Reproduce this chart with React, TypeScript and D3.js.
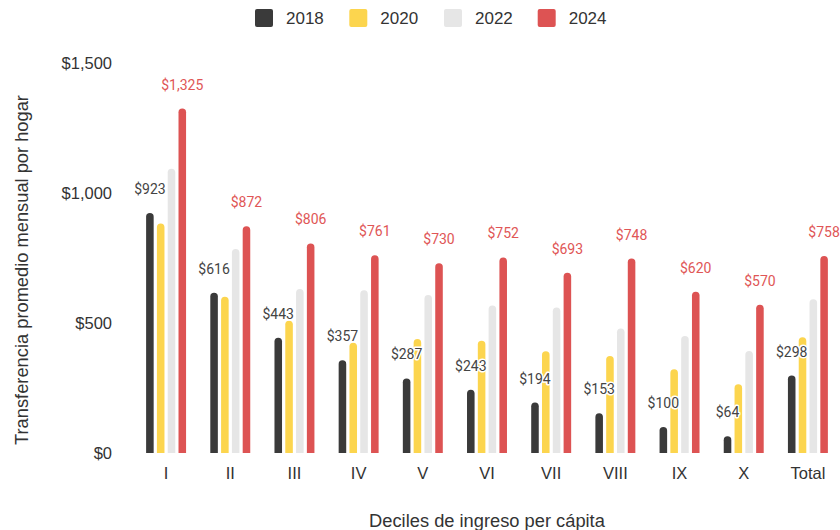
import React from "react";
import * as d3 from "d3";

const categories = ["I", "II", "III", "IV", "V", "VI", "VII", "VIII", "IX", "X", "Total"];
const years = ["2018", "2020", "2022", "2024"];
const values2018 = [923, 616, 443, 357, 287, 243, 194, 153, 100, 64, 298];
const values2020 = [883, 601, 509, 424, 438, 432, 391, 373, 322, 264, 445];
const values2022 = [1093, 785, 631, 626, 608, 567, 560, 479, 450, 392, 591];
const values2024 = [1325, 872, 806, 761, 730, 752, 693, 748, 620, 570, 758];
const yTicks = [0, 500, 1000, 1500];
const colors = ["#3a3a3a", "#fcd54e", "#e6e6e6", "#dd5353"];
const labelColors = ["#444444", null, null, "#e05656"];

const seriesValues = [values2018, values2020, values2022, values2024];

const W = 840;
const H = 530;

export default function App() {
  const x = d3.scaleBand<string>().domain(categories).range([134, 840]).padding(0);
  const bw = x.bandwidth();
  const xi = d3
    .scaleBand<string>()
    .domain(years)
    .range([bw / 2 - 21.6, bw / 2 + 21.6])
    .paddingInner(0.3)
    .paddingOuter(0.15);
  const y = d3.scaleLinear().domain([0, 1500]).range([453, 63]);
  const barW = xi.bandwidth();
  const fmt = (v: number) => "$" + d3.format(",")(v);
  const axisFont = "'Liberation Sans', Arial, sans-serif";
  const labelFont = "Roboto, 'Noto Sans', sans-serif";

  const barPath = (x0: number, y0: number, w: number, h: number) => {
    const r = Math.min(w / 2, h);
    return `M${x0},${y0 + h}V${y0 + r}A${r},${r} 0 0 1 ${x0 + 2 * r},${y0 + r}` +
      `${w > 2 * r ? `H${x0 + w}` : ""}V${y0 + h}Z`;
  };

  const legendX = [255, 349.3, 444, 537.7];

  return (
    <svg width={W} height={H} style={{ position: "absolute", left: 0, top: 0, background: "#fff" }}>
      {/* legend */}
      {years.map((yr, i) => (
        <g key={yr}>
          <rect x={legendX[i]} y={9} width={18} height={18} rx={2} fill={colors[i]} />
          <text x={legendX[i] + 31} y={24} fontSize={17} fontFamily={axisFont} fill="#333">
            {yr}
          </text>
        </g>
      ))}
      {/* y ticks */}
      {yTicks.map((t) => (
        <text key={t} x={112} y={y(t) + 6} textAnchor="end" fontSize={16.5} fontFamily={axisFont} fill="#333">
          {fmt(t)}
        </text>
      ))}
      <text
        transform={`translate(28,270) rotate(-90)`}
        textAnchor="middle"
        fontSize={18.3}
        fontFamily={axisFont}
        fill="#333"
      >
        Transferencia promedio mensual por hogar
      </text>
      {/* x ticks */}
      {categories.map((c) => (
        <text key={c} x={(x(c) as number) + bw / 2} y={479} textAnchor="middle" fontSize={16.5} fontFamily={axisFont} fill="#333">
          {c}
        </text>
      ))}
      <text x={487} y={527} textAnchor="middle" fontSize={18.3} fontFamily={axisFont} fill="#333">
        Deciles de ingreso per cápita
      </text>
      {/* bars */}
      {categories.map((c, ci) => (
        <g key={c}>
          {years.map((yr, si) => {
            const v = seriesValues[si][ci];
            const bx = (x(c) as number) + (xi(yr) as number);
            return <path key={yr} d={barPath(bx, y(v), barW, y(0) - y(v))} fill={colors[si]} />;
          })}
        </g>
      ))}
      {/* labels */}
      {categories.map((c, ci) => (
        <g key={c}>
          {years.map((yr, si) => {
            const col = labelColors[si];
            if (!col) return null;
            const v = seriesValues[si][ci];
            const cx = (x(c) as number) + (xi(yr) as number) + barW / 2;
            return (
              <text
                key={yr}
                x={cx}
                y={y(v) - 19}
                textAnchor="middle"
                fontSize={14}
                fontFamily={labelFont}
                fill={col}
                stroke="#fff"
                strokeWidth={3}
                strokeLinejoin="round"
                style={{ paintOrder: "stroke" }}
              >
                {fmt(v)}
              </text>
            );
          })}
        </g>
      ))}
    </svg>
  );
}
